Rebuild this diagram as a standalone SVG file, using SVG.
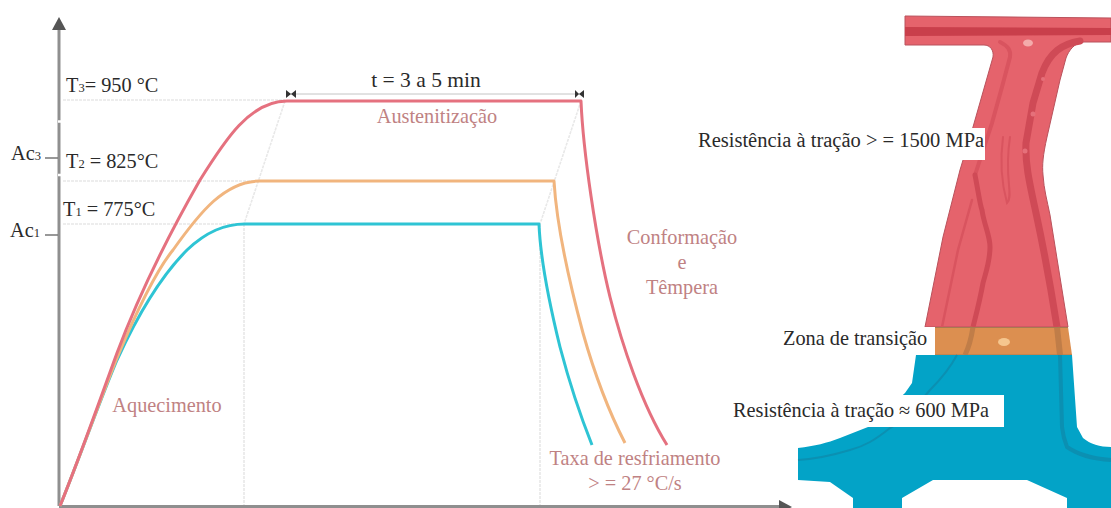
<svg xmlns="http://www.w3.org/2000/svg" width="1111" height="508" viewBox="0 0 1111 508">
  <style>
    text { font-family: "Liberation Serif", "Times New Roman", serif; font-size: 20.3px; }
    .k { fill: #2a2a2a; }
    .r { fill: #bf8283; }
    .m { text-anchor: middle; }
    .s { font-size: 12.5px; }
    .axis { stroke: #8f8f8f; stroke-width: 3; fill: none; }
    .tick { stroke: #777; stroke-width: 1.6; fill: none; }
    .guide { stroke: #e8e8e8; stroke-width: 1.6; stroke-dasharray: 3 1; fill: none; }
    .curve { fill: none; stroke-width: 3; stroke-linejoin: round; }
    .hot { stroke: #e5717f; }
    .mid { stroke: #f1b57e; }
    .cold { stroke: #2ec4d4; }
    .band { fill: none; stroke: #cf4a56; stroke-linecap: round; }
    .wash { fill: none; stroke: #d9545f; stroke-linecap: round; }
    .bandO { fill: none; stroke: #c07d48; }
    .bandB { fill: none; stroke: #0b90b2; }
    .dot { fill: #e5707a; }
  </style>

  <rect width="1111" height="508" fill="#ffffff"/>

  <g id="axes">
    <path class="guide" d="M63 100H285M63 181H258M63 224H240M244 224V506M540 224V506M285 101L244 224M581 101L540 224"/>
    <path class="axis" d="M59 506V27"/>
    <path d="M59 17L66 30H52Z" fill="#555"/>
    <path d="M58 121.500h3M58 175h3" stroke="#fff" stroke-width="2.500"/>
    <path class="axis" d="M59 506.500H782"/>
    <path d="M792 507L779 500V514Z" fill="#555"/>
    <path class="tick" d="M45 158H58M45 235H58"/>
  </g>

  <g id="connectors">
    <path class="curve cold" d="M60 506C78 462 100 400 117 360C140 310 165 272 187 250C207 231 225 224 245 224H539C540 250 546 290 560 347C570 385 580 415 592 445"/>
    <path class="curve mid" d="M60 506C78 462 100 400 117 358C135 315 155 272 173 250C200 212 225 181 260 181H554C556 215 566 270 583 333C594 372 608 410 625 443"/>
    <path class="curve hot" d="M60 506C78 462 98 405 117 353C135 305 160 250 200 180C225 140 250 101 287 101H581C583 150 596 240 610 297C622 345 642 405 667 445"/>
  </g>

  <g id="duration">
    <path d="M287 94H581" stroke="#c4c4c4" stroke-width="1" fill="none"/>
    <path d="M286 90L291 94L286 98ZM296 90L291 94L296 98ZM575 90L579 94L575 98ZM584 90L579 94L584 98Z" fill="#333"/>
    <text class="k m" x="426" y="87" style="font-size:21.500px">t = 3 a 5 min</text>
  </g>

  <g id="temperature-labels">
    <text class="k" x="66" y="92">T<tspan class="s">3</tspan>= 950 °C</text>
    <text class="k" x="66" y="168">T<tspan class="s">2</tspan> = 825°C</text>
    <text class="k" x="63" y="216">T<tspan class="s">1</tspan> = 775°C</text>
    <text class="k" x="11" y="160">Ac<tspan class="s">3</tspan></text>
    <text class="k" x="10" y="237">Ac<tspan class="s">1</tspan></text>
  </g>

  <g id="stage-labels">
    <text class="r m" x="437" y="123">Austenitização</text>
    <text class="r m" x="167" y="412">Aquecimento</text>
    <text class="r m" x="682" y="244">Conformação</text>
    <text class="r m" x="682" y="269">e</text>
    <text class="r m" x="682" y="294">Têmpera</text>
    <text class="r m" x="635" y="465">Taxa de resfriamento</text>
    <text class="r m" x="635" y="490">&gt; = 27 °C/s</text>
  </g>

  <g id="part">
    <path id="part-hard" d="M905 16L1111 18V42H1082C1074 44 1069 50 1066 58L1060 80L1047 137C1043 155 1042 165 1043 175C1044 190 1047 200 1050 215L1068 327H925L943 237L960 170L973 127L993 57C994 50 990 45 984 45H905Z" fill="#e5636c" stroke="#b9525c" stroke-width="1"/>
    <path d="M905 27L1111 28V35L905 36Z" fill="#c93f4b"/>
    <path class="band" stroke-width="7" d="M1080 41C1062 44 1050 52 1042 73L1033 103L1026 143C1025 165 1030 185 1036 213C1044 250 1052 295 1057 327"/>
    <path class="wash" stroke-width="4" d="M1000 42C1008 46 1011 50 1010 57L1002 87L992 123L975 175"/>
    <path class="band" stroke-width="5" d="M975 175C978 190 980 205 982 210C984 225 990 235 990 247C990 262 985 275 983 283C980 300 976 315 973 327"/>
    <path class="wash" stroke-width="2.500" d="M972 200L958 250L942 327"/>
    <path class="wash" stroke-width="2" d="M1003 137C1000 160 1002 185 1007 203C1010 200 1010 195 1009 185C1007 165 1008 150 1010 137"/>
    <ellipse cx="1028" cy="43" rx="5" ry="3.500" fill="#f4abab"/>
    <circle class="dot" cx="1043" cy="79" r="2"/>
    <circle class="dot" cx="1033" cy="114" r="2.500"/>
    <circle class="dot" cx="1025" cy="151" r="2.500"/>
    <path id="part-transition" d="M925 327H1068L1072 355H925Z" fill="#dc8f50"/>
    <path class="bandO" stroke-width="5" d="M973 327C971 340 969 347 965 355"/>
    <path class="bandO" stroke-width="6" d="M1057 327L1060 355"/>
    <path d="M925 327.500H1068M925 355H1072" stroke="#a87a50" stroke-width="1" fill="none"/>
    <ellipse cx="1004" cy="342" rx="6" ry="4" fill="#f5c68e"/>
    <path id="part-soft" d="M916 355H1072L1077 427L1083 438C1090 444 1100 447 1111 447V508H1067V498L1027 480H933L902 498V508H853V498L830 482L798 480V448C815 446 827 443 840 438L868 427L905 393L912 383Z" fill="#03a3c7"/>
    <path class="bandB" stroke-width="2" d="M957 355C950 368 940 380 930 390C915 408 905 420 890 428C875 440 865 446 850 450C830 456 815 459 798 460"/>
    <path class="bandB" stroke-width="4" d="M1060 355L1062 427C1063 437 1065 442 1067 447C1080 456 1095 459 1111 460"/>
  </g>

  <g id="part-labels">
    <rect x="697" y="128" width="288" height="32" fill="#fff"/>
    <text class="k" x="698" y="147" style="font-size:20.500px">Resistência à tração &gt; = 1500 MPa</text>
    <rect x="780" y="327" width="155" height="28" fill="#fff"/>
    <text class="k" x="783" y="345">Zona de transição</text>
    <rect x="733" y="395" width="271" height="32" fill="#fff"/>
    <text class="k" x="733" y="416.500">Resistência à tração ≈ 600 MPa</text>
  </g>
</svg>
